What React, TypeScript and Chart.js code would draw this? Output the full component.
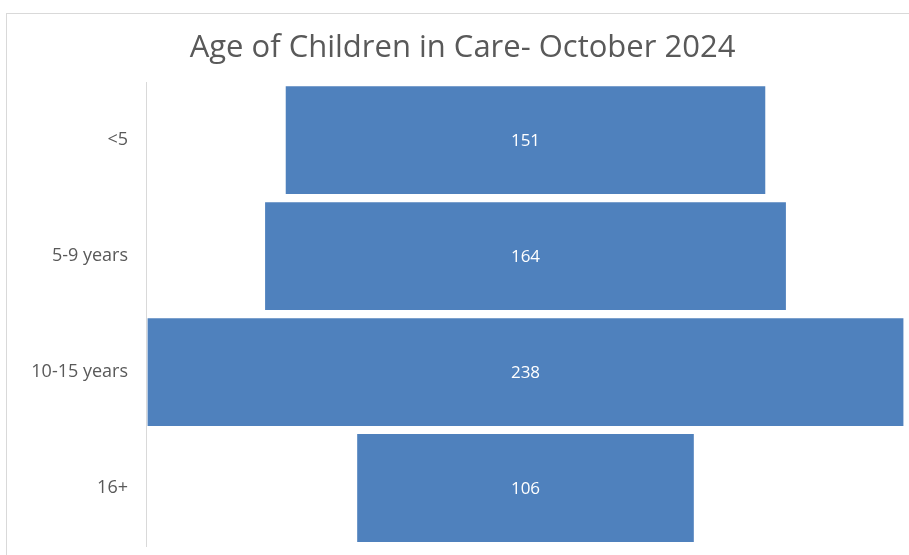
import { useEffect, useRef } from 'react';
import { Chart, registerables } from 'chart.js';

Chart.register(...registerables);

const ageGroups = ['<5', '5-9 years', '10-15 years', '16+'];
const childCounts = [151, 164, 238, 106];
const chartTitle = 'Age of Children in Care- October 2024';

const BAR_BLUE = '#4f81bd';
const GREY_TEXT = '#595959';

// centred value labels inside each bar
const barLabels = {
    id: 'barLabels',
    afterDatasetsDraw(chart: Chart) {
        const ctx = chart.ctx;
        const meta = chart.getDatasetMeta(0);
        ctx.save();
        ctx.fillStyle = '#ffffff';
        ctx.font = '17px "Open Sans", sans-serif';
        ctx.textAlign = 'center';
        ctx.textBaseline = 'middle';
        meta.data.forEach((bar: any, i: number) => {
            const { x, y, base } = bar.getProps(['x', 'y', 'base'], true);
            ctx.fillText(String(childCounts[i]), (x + base) / 2, y + 1);
        });
        ctx.restore();
    },
};

export default function App() {
    const canvasRef = useRef<HTMLCanvasElement>(null);

    useEffect(() => {
        if (!canvasRef.current) return;
        const maxVal = Math.max(...childCounts);
        const half = maxVal / 2 + 0.5;

        const chart = new Chart(canvasRef.current, {
            type: 'bar',
            data: {
                labels: ageGroups,
                datasets: [
                    {
                        data: childCounts.map((v) => [-v / 2, v / 2]) as any,
                        backgroundColor: BAR_BLUE,
                        borderWidth: 0,
                        categoryPercentage: 1,
                        barPercentage: 0.93,
                    },
                ],
            },
            options: {
                indexAxis: 'y',
                animation: false,
                responsive: false,
                layout: { padding: { left: 20, right: 4, top: 0, bottom: 9 } },
                plugins: {
                    legend: { display: false },
                    tooltip: { enabled: false },
                    title: {
                        display: true,
                        text: chartTitle,
                        color: GREY_TEXT,
                        font: { family: '"Open Sans", sans-serif', size: 31, weight: 'normal' },
                        padding: { top: 30, bottom: 15 },
                    },
                },
                scales: {
                    x: {
                        display: false,
                        min: -half,
                        max: half,
                    },
                    y: {
                        grid: { display: false },
                        border: { color: '#d9d9d9' },
                        ticks: {
                            color: GREY_TEXT,
                            font: { family: '"Open Sans", sans-serif', size: 18 },
                            padding: 10,
                        },
                        afterFit: (scale: any) => {
                            scale.width = 126;
                            scale.paddingTop = 0;
                            scale.paddingBottom = 0;
                        },
                    },
                },
            },
            plugins: [barLabels],
        });

        return () => chart.destroy();
    }, []);

    return (
        <div style={{ position: 'fixed', left: 0, top: 0, width: 909, height: 555, background: '#fff' }}>
            <div
                style={{
                    position: 'absolute',
                    left: 6,
                    top: 13,
                    width: 920,
                    height: 560,
                    border: '1px solid #d9d9d9',
                }}
            />
            <canvas
                ref={canvasRef}
                width={909}
                height={555}
                style={{ position: 'absolute', left: 0, top: 0, width: 909, height: 555 }}
            ></canvas>
        </div>
    );
}
